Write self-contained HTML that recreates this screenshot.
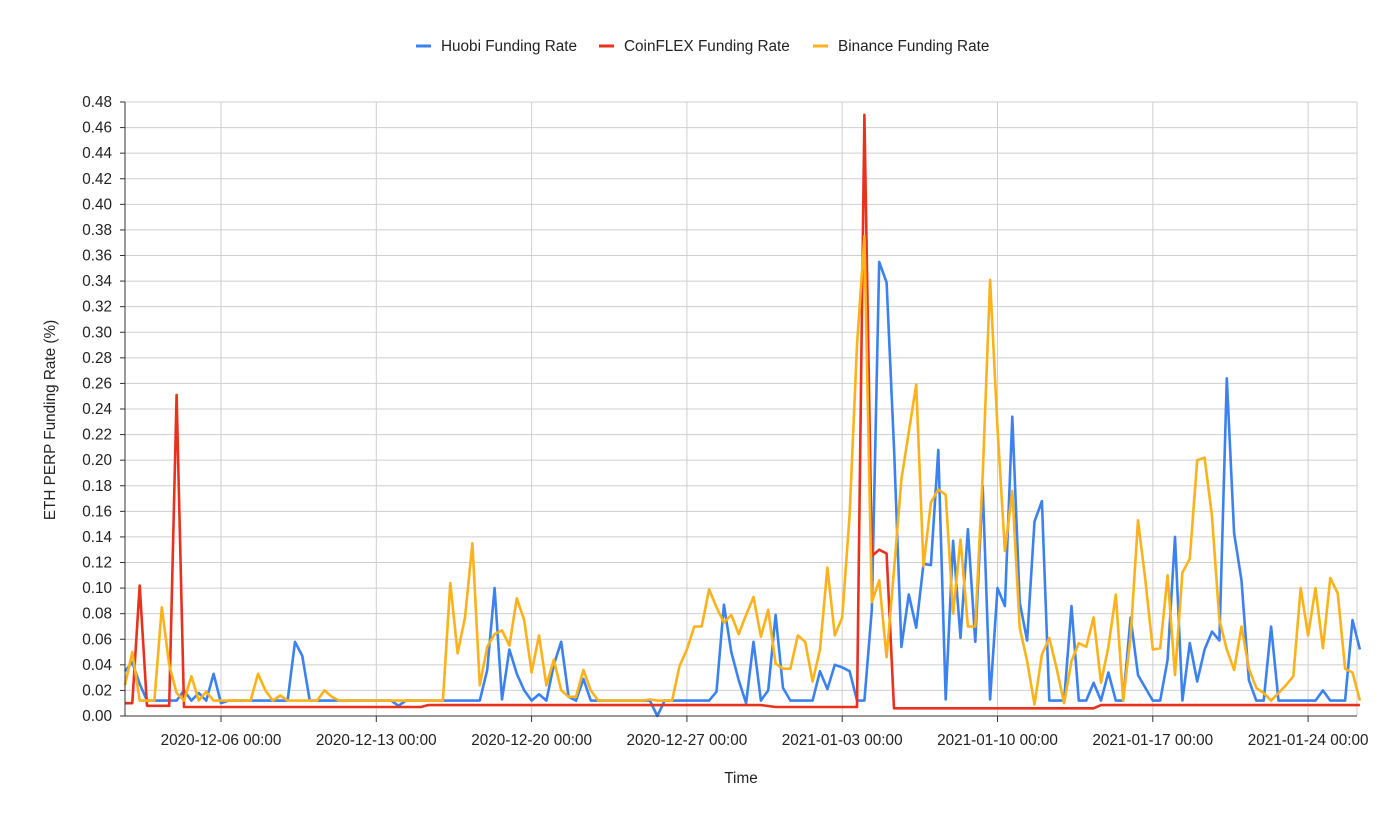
<!DOCTYPE html>
<html><head><meta charset="utf-8">
<style>
body{margin:0;background:#fff;font-family:"Liberation Sans",sans-serif;}
svg text{font-family:"Liberation Sans",sans-serif;fill:#222;}
</style></head>
<body>
<svg id="chart" width="1400" height="827" viewBox="0 0 1400 827" xmlns="http://www.w3.org/2000/svg">
<rect width="1400" height="827" fill="#fff"/>
<g id="grid"></g>
<g id="series"></g>
<g id="axes"></g>
<g id="legend"></g>
<text x="741" y="783" font-size="15.3" text-anchor="middle">Time</text>
<text transform="translate(55,420) rotate(-90)" font-size="15.3" text-anchor="middle">ETH PERP Funding Rate (%)</text>
</svg>
<script>
// 8-hour funding periods counted from 2020-12-06 00:00
const xTickLabels = ["2020-12-06 00:00","2020-12-13 00:00","2020-12-20 00:00","2020-12-27 00:00","2021-01-03 00:00","2021-01-10 00:00","2021-01-17 00:00","2021-01-24 00:00"];
const yTicks = [0,0.02,0.04,0.06,0.08,0.10,0.12,0.14,0.16,0.18,0.20,0.22,0.24,0.26,0.28,0.30,0.32,0.34,0.36,0.38,0.40,0.42,0.44,0.46,0.48];
const seriesNames = ["Huobi Funding Rate","CoinFLEX Funding Rate","Binance Funding Rate"];
const seriesColors = ["#3b82ef","#e8321e","#fbb21b"];

const huobiK = [-13,-12,-11,-10,-6,-5,-4,-3,-2,-1,0,1,9,10,11,12,23,24,25,35,36,37,38,39,40,41,42,43,44,45,46,47,48,49,50,58,59,60,66,67,68,69,70,71,72,73,74,75,76,77,80,81,82,83,84,85,86,87,88,89,90,91,92,93,94,95,96,97,98,99,100,101,102,103,104,105,106,107,108,109,110,111,112,114,115,116,117,118,119,120,121,122,123,124,125,126,127,128,129,130,131,132,133,134,135,136,137,138,139,140,141,142,143,148,149,150,152,153,154];
const huobiV = [0.035,0.042,0.025,0.012,0.012,0.02,0.012,0.018,0.012,0.033,0.01,0.012,0.012,0.058,0.047,0.012,0.012,0.008,0.012,0.012,0.036,0.10,0.013,0.052,0.033,0.02,0.012,0.017,0.012,0.04,0.058,0.015,0.012,0.029,0.012,0.012,0.0,0.012,0.012,0.019,0.087,0.05,0.028,0.01,0.058,0.012,0.02,0.079,0.022,0.012,0.012,0.035,0.021,0.04,0.038,0.035,0.012,0.012,0.083,0.355,0.339,0.21,0.054,0.095,0.069,0.119,0.118,0.208,0.013,0.137,0.061,0.146,0.058,0.18,0.013,0.10,0.086,0.234,0.089,0.059,0.152,0.168,0.012,0.012,0.086,0.012,0.012,0.026,0.012,0.034,0.012,0.012,0.077,0.032,0.022,0.012,0.012,0.044,0.14,0.012,0.057,0.027,0.052,0.066,0.059,0.264,0.143,0.106,0.028,0.012,0.012,0.07,0.012,0.012,0.02,0.012,0.012,0.075,0.052];

const coinflexK = [-13,-12,-11,-10,-7,-6,-5,27,28,73,74,75,86,87,88,89,90,91,118,119,154];
const coinflexV = [0.01,0.01,0.102,0.008,0.008,0.251,0.007,0.007,0.0085,0.0085,0.0078,0.007,0.007,0.47,0.125,0.13,0.127,0.006,0.006,0.0085,0.0085];

const binanceK = [-13,-12,-11,-9,-8,-7,-6,-5,-4,-3,-2,-1,4,5,6,7,8,9,13,14,15,16,30,31,32,33,34,35,36,37,38,39,40,41,42,43,44,45,46,47,48,49,50,51,52,57,58,59,61,62,63,64,65,66,67,68,69,70,71,72,73,74,75,76,77,78,79,80,81,82,83,84,85,86,87,88,89,90,91,92,93,94,95,96,97,98,99,100,101,102,103,104,105,106,107,108,109,110,111,112,113,114,115,116,117,118,119,120,121,122,123,124,125,126,127,128,129,130,131,132,133,134,135,136,137,138,139,140,141,142,143,144,145,146,147,148,149,150,151,152,153,154];
const binanceV = [0.024,0.05,0.012,0.012,0.085,0.04,0.018,0.012,0.031,0.012,0.019,0.012,0.012,0.033,0.02,0.012,0.016,0.012,0.012,0.02,0.015,0.012,0.012,0.104,0.049,0.077,0.135,0.024,0.054,0.064,0.067,0.055,0.092,0.075,0.034,0.063,0.024,0.044,0.02,0.015,0.015,0.036,0.02,0.012,0.012,0.012,0.013,0.012,0.012,0.039,0.052,0.07,0.07,0.099,0.085,0.073,0.079,0.064,0.079,0.093,0.062,0.083,0.041,0.037,0.037,0.063,0.058,0.027,0.052,0.116,0.063,0.077,0.157,0.29,0.375,0.089,0.106,0.046,0.114,0.185,0.222,0.259,0.117,0.167,0.177,0.173,0.08,0.138,0.07,0.07,0.188,0.341,0.225,0.129,0.176,0.069,0.043,0.009,0.048,0.061,0.037,0.01,0.043,0.057,0.054,0.077,0.026,0.054,0.095,0.012,0.062,0.153,0.106,0.052,0.053,0.11,0.032,0.112,0.123,0.2,0.202,0.156,0.075,0.052,0.036,0.07,0.037,0.022,0.018,0.012,0.018,0.024,0.031,0.1,0.063,0.1,0.053,0.108,0.096,0.037,0.034,0.012];

const L=125,R=1357,T=102,B=716,X0=221,WEEK=155.3,FS=15.3;
const NS='http://www.w3.org/2000/svg';
function xScale(k){return X0 + (k*8)/(7*24)*WEEK;}
function yScale(v){return B-(v/0.48)*(B-T);}
function mk(tag,attrs,parent){const e=document.createElementNS(NS,tag);for(const a in attrs)e.setAttribute(a,attrs[a]);parent.appendChild(e);return e;}
const grid=document.getElementById('grid'),axes=document.getElementById('axes'),ser=document.getElementById('series'),leg=document.getElementById('legend');

yTicks.forEach((t,i)=>{
  const y=yScale(t);
  const g=mk('line',{x1:L,x2:R,y1:y,y2:y,stroke:'#cfcfcf','stroke-width':1},grid);
  
  
  const tk=mk('line',{x1:L-5,x2:L,y1:y,y2:y,stroke:'#333','stroke-width':1},axes);
  
  
  const tx=mk('text',{x:L-13,y:y+5,'font-size':FS,'text-anchor':'end'},axes);
  tx.textContent=t.toFixed(2);
  
  
});
xTickLabels.forEach((lab,i)=>{
  const x=xScale(i*21);
  const g=mk('line',{x1:x,x2:x,y1:T,y2:B,stroke:'#cfcfcf','stroke-width':1},grid);
  
  
  const tk=mk('line',{x1:x,x2:x,y1:B,y2:B+6,stroke:'#333','stroke-width':1},axes);
  
  
  const tx=mk('text',{x:x,y:B+29,'font-size':FS,'text-anchor':'middle'},axes);
  tx.textContent=lab;
  
  
});
mk('line',{x1:R,x2:R,y1:T,y2:B,stroke:'#cfcfcf'},grid);
const ax1=mk('line',{x1:L,x2:L,y1:T,y2:B,stroke:'#333','stroke-width':1},axes);


const ax2=mk('line',{x1:L,x2:R,y1:B,y2:B,stroke:'#333','stroke-width':1},axes);



function drawLine(K,V,color,name){
  const d=K.map((k,i)=>(i?'L':'M')+xScale(k).toFixed(1)+','+yScale(V[i]).toFixed(1)).join(' ');
  const p=mk('path',{d:d,fill:'none',stroke:color,'stroke-width':2.6,'stroke-linejoin':'round'},ser);
  
  
}
drawLine(huobiK,huobiV,seriesColors[0],'huobi-line');
drawLine(coinflexK,coinflexV,seriesColors[1],'coinflex-line');
drawLine(binanceK,binanceV,seriesColors[2],'binance-line');

const legX=[416,599,813];
seriesNames.forEach((n,i)=>{
  const m=mk('line',{x1:legX[i],x2:legX[i]+15,y1:46,y2:46,stroke:seriesColors[i],'stroke-width':3},leg);
  
  
  const t=mk('text',{x:legX[i]+25,y:51,'font-size':FS},leg);
  t.textContent=n;
  
  
});
</script>
</body></html>
